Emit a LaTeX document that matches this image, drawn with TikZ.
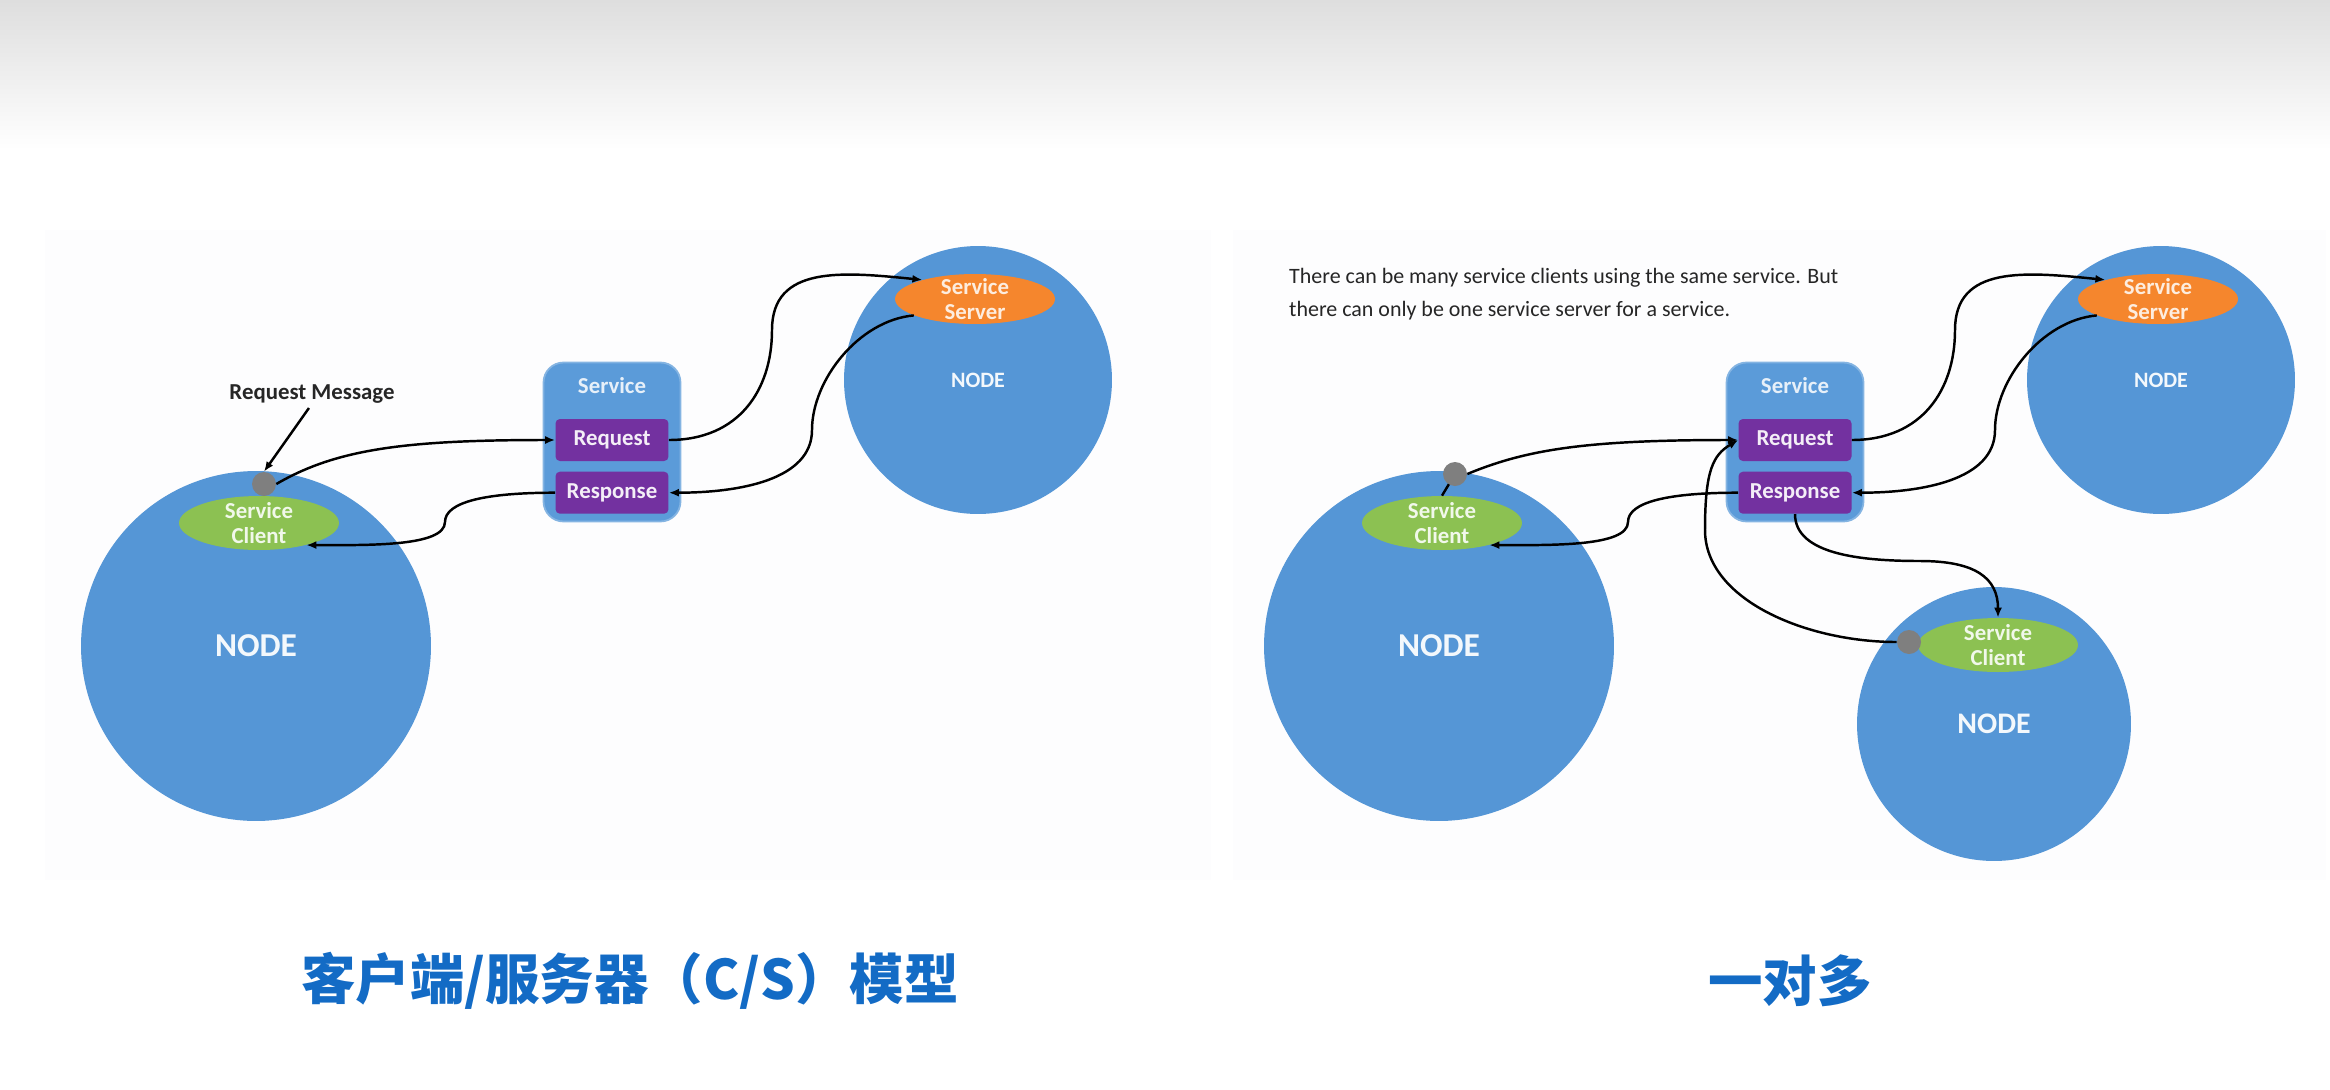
\documentclass[tikz,border=0pt]{standalone}
\usepackage{fontspec}
\setmainfont{Carlito}
\newfontfamily\cjkfont{Noto Sans CJK SC}
\usepackage{tikz}
\usetikzlibrary{arrows.meta,positioning,calc,shapes.geometric}
\usepackage{xcolor}
\definecolor{rosblue}{HTML}{5596D6}
\definecolor{svcblue}{HTML}{5B9BD9}
\definecolor{msgpurple}{HTML}{7331A0}
\definecolor{clientgreen}{HTML}{8CC152}
\definecolor{serverorange}{HTML}{F5862D}
\definecolor{dotgrey}{HTML}{7F7F7F}
\definecolor{titleblue}{HTML}{136BC5}
\definecolor{topgrey}{HTML}{DEDEDE}
\definecolor{panelwash}{HTML}{FDFDFE}
\tikzset{
  nodecircle/.style={
    circle,
    fill=rosblue,
    inner sep=0pt,
    minimum size=#1,
    text=white!93!rosblue,
    font=\bfseries\fontsize{12.5}{14}\selectfont
  },
  clientell/.style={
    ellipse,
    fill=clientgreen,
    minimum width=3.2cm,
    minimum height=1.08cm,
    inner sep=0pt
  },
  serverell/.style={
    ellipse,
    fill=serverorange,
    minimum width=3.2cm,
    minimum height=1.0cm,
    inner sep=0pt
  },
  elltext/.style={
    align=center,
    inner sep=0pt,
    font=\bfseries\fontsize{13}{14.5}\selectfont
  },
  svcbox/.style={
    rounded corners=0.4cm,
    fill=svcblue,
    draw=svcblue!75!white,
    line width=1pt,
    minimum width=2.74cm,
    minimum height=3.18cm
  },
  msgbox/.style={
    rounded corners=2.5pt,
    fill=msgpurple,
    minimum width=2.26cm,
    minimum height=0.84cm,
    inner sep=0pt,
    text=white!92!msgpurple,
    font=\bfseries\fontsize{13}{15}\selectfont
  },
  greydot/.style={
    circle,
    fill=dotgrey,
    minimum size=0.48cm,
    inner sep=0pt
  },
  link/.style={
    -{Latex[length=2mm,width=1.6mm]},
    line width=1.4pt,
    draw=black
  },
  headline/.style={
    text=titleblue,
    font=\cjkfont\bfseries\fontsize{31}{34}\selectfont
  }
}

\begin{document}
\begin{tikzpicture}[x=0.02cm, y=-0.02cm]
\useasboundingbox (0,0) rectangle (2330,1089);
% backdrop
\shade[top color=topgrey, bottom color=white] (0,0) rectangle (2330,150);
\fill[panelwash] (45,230) rectangle (1211,880);
\fill[panelwash] (1233,230) rectangle (2326,880);

% ---- left: client / server
\node[nodecircle=7cm, font=\bfseries\fontsize{19}{22}\selectfont] (nodeL) at (256,646) {NODE};
\node[nodecircle=5.36cm] (srvnodeL) at (978,380) {NODE};
\node[clientell] (cliL) at (259,523) {};
\node[elltext, text=white!88!clientgreen] (cliLtxt) at (cliL) {Service\\Client};
\node[serverell] (srvL) at (975,299) {};
\node[elltext, text=white!85!serverorange] (srvLtxt) at (srvL) {Service\\Server};
\node[greydot] (dotL) at (264,484) {};
\node[svcbox] (svcL) at (612,442) {};
\node[msgbox] (reqL) at (612,440) {Request};
\node[msgbox, below=0.2cm of reqL] (resL) {Response};
\node[elltext, text=white!85!svcblue, below=0.3cm of svcL.north] (svcLtxt) {Service};
\node[elltext, text=black!85] (msgL) at (312,394) {Request Message};

\draw[link, shorten <=3pt] (msgL.south) -- (dotL.north);
\draw[link] (dotL.east) .. controls +(60,-35) and +(-150,0) .. (reqL.west);
\draw[link] (reqL.east) .. controls +(70,0) and +(0,60) .. (772,330)
  .. controls +(0,-65) and +(-80,-8) .. (srvL.160);
\draw[link] (srvL.195) .. controls +(-55,5) and +(0,-50) .. (812,430)
  .. controls +(0,50) and +(70,0) .. (resL.east);
\draw[link] (resL.west) .. controls +(-70,0) and +(0,-20) .. (445,522)
  .. controls +(0,25) and +(60,0) .. (cliL.-25);

% ---- right: one server, many clients
\node[nodecircle=7cm, font=\bfseries\fontsize{19}{22}\selectfont] (nodeR) at (1439,646) {NODE};
\node[nodecircle=5.36cm] (srvnodeR) at (2161,380) {NODE};
\node[nodecircle=5.48cm, font=\bfseries\fontsize{17}{20}\selectfont] (nodeC) at (1994,724) {NODE};
\node[clientell] (cliR) at (1442,523) {};
\node[elltext, text=white!88!clientgreen] (cliRtxt) at (cliR) {Service\\Client};
\node[clientell] (cliC) at (1998,645) {};
\node[elltext, text=white!88!clientgreen] (cliCtxt) at (cliC) {Service\\Client};
\node[serverell] (srvR) at (2158,299) {};
\node[elltext, text=white!85!serverorange] (srvRtxt) at (srvR) {Service\\Server};
\draw[line width=1.4pt] (1455,474) -- (cliR.north);
\node[greydot] (dotR) at (1455,474) {};
\node[greydot] (dotC) at (1909,642) {};
\node[svcbox] (svcR) at (1795,442) {};
\node[msgbox] (reqR) at (1795,440) {Request};
\node[msgbox, below=0.2cm of reqR] (resR) {Response};
\node[elltext, text=white!85!svcblue, below=0.3cm of svcR.north] (svcRtxt) {Service};
\node[anchor=north west, align=left, text=black!85, font=\fontsize{12.5}{19}\selectfont] (noteR) at (1283,262)
  {There can be many service clients using the same service. But\\there can only be one service server for a service.};

\draw[link] (dotR.east) .. controls +(60,-25) and +(-150,0) .. (reqR.west);
\draw[link] (reqR.east) .. controls +(70,0) and +(0,60) .. (1955,330)
  .. controls +(0,-65) and +(-80,-8) .. (srvR.160);
\draw[link] (srvR.195) .. controls +(-55,5) and +(0,-50) .. (1995,430)
  .. controls +(0,50) and +(70,0) .. (resR.east);
\draw[link] (resR.west) .. controls +(-70,0) and +(0,-20) .. (1628,522)
  .. controls +(0,25) and +(60,0) .. (cliR.-25);
\draw[link] (resR.south) .. controls +(0,40) and +(-60,0) .. (1920,561)
  .. controls +(55,0) and +(0,-40) .. (cliC.north);
\draw[link] (dotC.west) .. controls +(-90,0) and +(0,70) .. (1705,530)
  .. controls +(0,-60) and +(-25,15) .. (reqR.west);

% titles
\node[headline] (titleL) at (630,981) {客户端/服务器（C/S）模型};
\node[headline] (titleR) at (1790,981) {一对多};
\end{tikzpicture}
\end{document}
